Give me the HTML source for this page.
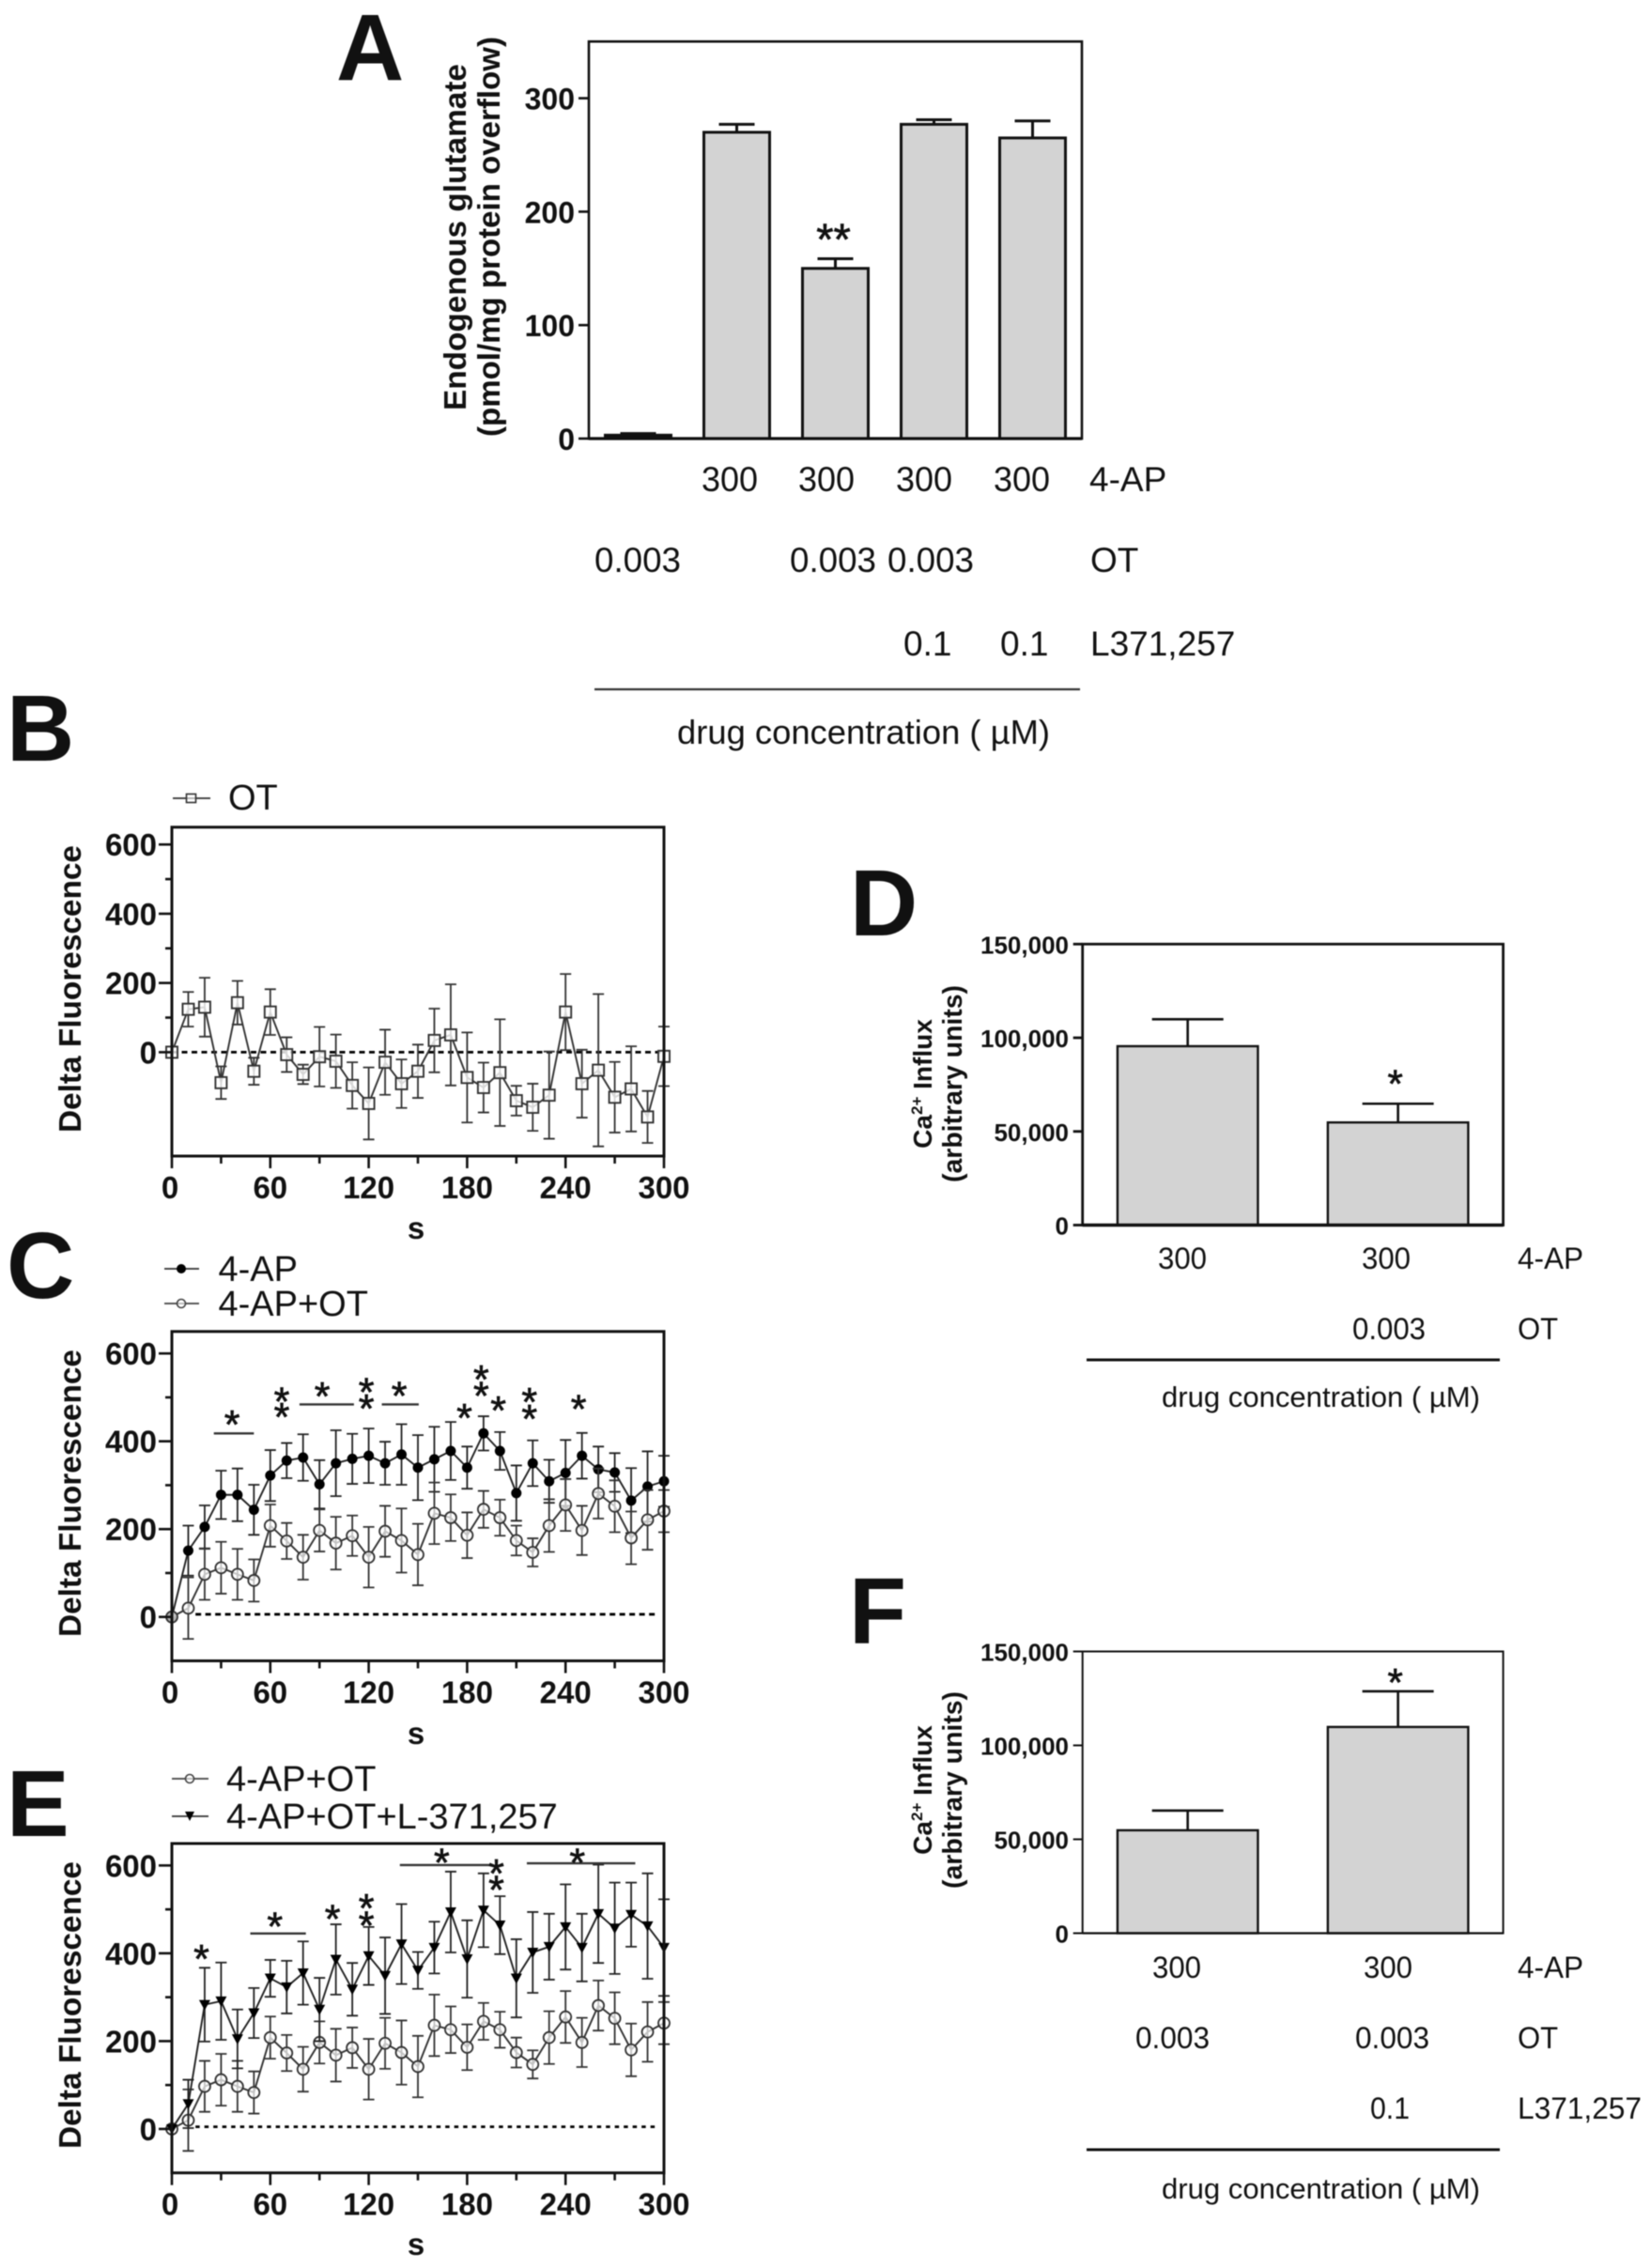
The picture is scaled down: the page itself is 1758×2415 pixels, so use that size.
<!DOCTYPE html>
<html lang="en">
<head>
<meta charset="utf-8">
<title>Glutamate release and calcium influx figure</title>
<style>
html,body{margin:0;padding:0;background:#fff}
#figure{display:block;width:1758px;height:2415px;filter:blur(.55px)}
text{font-family:"Liberation Sans",sans-serif;fill:#111}
.b{font-weight:700}
.r{font-weight:400}
</style>
</head>
<body>
<svg id="figure" xmlns="http://www.w3.org/2000/svg" width="1758" height="2415" viewBox="0 0 1758 2415">
<rect width="1758" height="2415" fill="#fff"/>

<!-- Panel letters -->
<text class="b" x="358" y="85" font-size="100">A</text>
<text class="b" x="7" y="810" font-size="100">B</text>
<text class="b" x="7" y="1382" font-size="100">C</text>
<text class="b" x="905" y="996" font-size="100">D</text>
<text class="b" x="7" y="1955" font-size="100">E</text>
<text class="b" x="904" y="1750" font-size="100">F</text>

<!-- Panel A labels -->
<g>
<text class="b" transform="translate(496,252.5) rotate(-90)" text-anchor="middle" font-size="33" textLength="369" lengthAdjust="spacingAndGlyphs">Endogenous glutamate</text>
<text class="b" transform="translate(532,252) rotate(-90)" text-anchor="middle" font-size="33" textLength="426" lengthAdjust="spacingAndGlyphs">(pmol/mg protein overflow)</text>
<text class="r" x="747" y="523" font-size="37" textLength="60" lengthAdjust="spacingAndGlyphs">300</text>
<text class="r" x="850" y="523" font-size="37" textLength="60" lengthAdjust="spacingAndGlyphs">300</text>
<text class="r" x="954" y="523" font-size="37" textLength="60" lengthAdjust="spacingAndGlyphs">300</text>
<text class="r" x="1058" y="523" font-size="37" textLength="60" lengthAdjust="spacingAndGlyphs">300</text>
<text class="r" x="1160" y="523" font-size="37">4-AP</text>
<text class="r" x="633" y="609" font-size="37" textLength="92" lengthAdjust="spacingAndGlyphs">0.003</text>
<text class="r" x="841" y="609" font-size="37" textLength="92" lengthAdjust="spacingAndGlyphs">0.003</text>
<text class="r" x="945" y="609" font-size="37" textLength="92" lengthAdjust="spacingAndGlyphs">0.003</text>
<text class="r" x="1161" y="609" font-size="37">OT</text>
<text class="r" x="962" y="698" font-size="37">0.1</text>
<text class="r" x="1065" y="698" font-size="37">0.1</text>
<text class="r" x="1161" y="698" font-size="37">L371,257</text>
<line x1="633" x2="1150" y1="734" y2="734" stroke="#333" stroke-width="2.2"/>
<text class="r" x="721" y="792" font-size="36" textLength="397" lengthAdjust="spacingAndGlyphs">drug concentration ( µM)</text>
</g>

<!-- Panel B labels -->
<g>
<text class="b" transform="translate(86,1053) rotate(-90)" text-anchor="middle" font-size="33.4" textLength="306" lengthAdjust="spacingAndGlyphs">Delta Fluorescence</text>
<text class="b" x="443" y="1319" text-anchor="middle" font-size="33">s</text>
<g>
<line x1="184" x2="224" y1="850" y2="850" stroke="#333" stroke-width="1.8"/>
<rect x="198.5" y="845.5" width="10" height="9" fill="#fff" fill-opacity="0.6" stroke="#333" stroke-width="1.6"/>
<text class="r" x="243" y="862" font-size="38">OT</text>
</g>
</g>

<!-- Panel C labels -->
<g>
<text class="b" transform="translate(86,1590) rotate(-90)" text-anchor="middle" font-size="33.4" textLength="306" lengthAdjust="spacingAndGlyphs">Delta Fluorescence</text>
<text class="b" x="443" y="1857" text-anchor="middle" font-size="33">s</text>
<g>
<line x1="175" x2="212" y1="1351" y2="1351" stroke="#333" stroke-width="1.8"/>
<circle cx="193" cy="1351" r="5" fill="#000"/>
<text class="r" x="232.5" y="1364" font-size="38">4-AP</text>
</g>
<g>
<line x1="175" x2="212" y1="1388" y2="1388" stroke="#444" stroke-width="1.8"/>
<circle cx="193" cy="1388" r="4.5" fill="#fff" fill-opacity="0.6" stroke="#444" stroke-width="1.6"/>
<text class="r" x="232.5" y="1401" font-size="38">4-AP+OT</text>
</g>
</g>

<!-- Panel E labels -->
<g>
<text class="b" transform="translate(86,2135) rotate(-90)" text-anchor="middle" font-size="33.4" textLength="306" lengthAdjust="spacingAndGlyphs">Delta Fluorescence</text>
<text class="b" x="443" y="2401" text-anchor="middle" font-size="33">s</text>
<g>
<line x1="183" x2="222" y1="1894" y2="1894" stroke="#444" stroke-width="1.8"/>
<circle cx="202" cy="1894" r="4.5" fill="#fff" fill-opacity="0.6" stroke="#444" stroke-width="1.6"/>
<text class="r" x="241" y="1907" font-size="38">4-AP+OT</text>
</g>
<g>
<line x1="183" x2="222" y1="1934" y2="1934" stroke="#333" stroke-width="1.8"/>
<polygon points="197,1929 207,1929 202,1939" fill="#000"/>
<text class="r" x="241" y="1947" font-size="38">4-AP+OT+L-371,257</text>
</g>
</g>

<!-- Panel D labels -->
<g>
<text class="b" transform="translate(992,1154) rotate(-90)" text-anchor="middle" font-size="28">Ca<tspan font-size="17" dy="-10">2+</tspan><tspan dy="10"> Influx</tspan></text>
<text class="b" transform="translate(1024,1154) rotate(-90)" text-anchor="middle" font-size="29" textLength="210" lengthAdjust="spacingAndGlyphs">(arbitrary units)</text>
<text class="r" x="1233" y="1351" font-size="32" textLength="52" lengthAdjust="spacingAndGlyphs">300</text>
<text class="r" x="1450" y="1351" font-size="32" textLength="52" lengthAdjust="spacingAndGlyphs">300</text>
<text class="r" x="1616" y="1351" font-size="32" textLength="70" lengthAdjust="spacingAndGlyphs">4-AP</text>
<text class="r" x="1440" y="1426" font-size="32" textLength="78" lengthAdjust="spacingAndGlyphs">0.003</text>
<text class="r" x="1616" y="1426" font-size="32" textLength="43" lengthAdjust="spacingAndGlyphs">OT</text>
<line x1="1157" x2="1597" y1="1448" y2="1448" stroke="#111" stroke-width="3"/>
<text class="r" x="1237" y="1498" font-size="31" textLength="339" lengthAdjust="spacingAndGlyphs">drug concentration ( µM)</text>
</g>

<!-- Panel F labels -->
<g>
<text class="b" transform="translate(992,1906) rotate(-90)" text-anchor="middle" font-size="28">Ca<tspan font-size="17" dy="-10">2+</tspan><tspan dy="10"> Influx</tspan></text>
<text class="b" transform="translate(1024,1906) rotate(-90)" text-anchor="middle" font-size="29" textLength="210" lengthAdjust="spacingAndGlyphs">(arbitrary units)</text>
<text class="r" x="1227" y="2106" font-size="32" textLength="52" lengthAdjust="spacingAndGlyphs">300</text>
<text class="r" x="1452" y="2106" font-size="32" textLength="52" lengthAdjust="spacingAndGlyphs">300</text>
<text class="r" x="1616" y="2106" font-size="32" textLength="70" lengthAdjust="spacingAndGlyphs">4-AP</text>
<text class="r" x="1209" y="2181" font-size="32" textLength="79" lengthAdjust="spacingAndGlyphs">0.003</text>
<text class="r" x="1443" y="2181" font-size="32" textLength="79" lengthAdjust="spacingAndGlyphs">0.003</text>
<text class="r" x="1616" y="2181" font-size="32" textLength="43" lengthAdjust="spacingAndGlyphs">OT</text>
<text class="r" x="1459" y="2256" font-size="32" textLength="42" lengthAdjust="spacingAndGlyphs">0.1</text>
<text class="r" x="1616" y="2256" font-size="32" textLength="132" lengthAdjust="spacingAndGlyphs">L371,257</text>
<line x1="1157" x2="1597" y1="2289" y2="2289" stroke="#111" stroke-width="3"/>
<text class="r" x="1237" y="2341" font-size="31" textLength="339" lengthAdjust="spacingAndGlyphs">drug concentration ( µM)</text>
</g>

<g id="charts"></g>
</svg>

<script>
// ---------- Data ----------
const timePoints = [0,10,20,30,40,50,60,70,80,90,100,110,120,130,140,150,160,170,180,190,200,210,220,230,240,250,260,270,280,290,300];
const timeTickValues = [0,30,60,90,120,150,180,210,240,270,300];
const timeTickLabels = ["0","","60","","120","","180","","240","","300"];
const fluorTickValues = [0,100,200,300,400,500,600];
const fluorTickLabels = ["0","","200","","400","","600"];

const otMean = [0,124,130,-88,143,-55,116,-7,-64,-13,-26,-96,-148,-29,-91,-55,34,50,-73,-102,-59,-140,-159,-124,116,-91,-52,-130,-106,-187,-12];
const otErr  = [0,50,85,47,63,39,66,50,28,86,77,67,104,94,70,77,92,146,130,72,154,43,68,126,110,98,220,102,123,75,86];

const apMean = [0,151,205,278,278,244,322,356,363,302,350,360,367,350,370,340,359,378,340,418,378,282,350,309,328,367,336,329,265,297,309];
const apErr  = [0,57,49,55,60,57,58,40,53,55,75,57,62,49,69,74,74,66,48,39,43,63,52,49,75,52,52,44,74,80,58];

const apOtMean = [0,20,97,112,97,83,208,173,136,197,168,185,136,195,174,142,236,226,186,245,226,174,147,208,255,197,281,252,180,221,241];
const apOtErr  = [0,70,58,59,58,48,48,41,51,48,60,46,69,58,73,70,70,53,52,42,41,34,32,60,59,56,57,59,60,68,48];

const apOtLMean = [0,57,283,291,205,264,343,323,355,272,386,318,394,349,421,361,413,494,387,498,464,343,402,415,460,413,490,457,488,462,413];
const apOtLErr  = [0,55,84,88,67,57,42,60,72,72,80,60,66,87,91,42,59,92,88,84,66,89,92,75,97,77,112,104,73,120,110];

const cStarTimes  = [36.7,67,67,91.7,118.6,118.6,138.6,178.3,188.6,188.6,199,218,218,248];
const cStarLevels = [460,513,477,524,534,497,525,475,563,525,492,512,473,495];
const cSpanStarts = [25.6,77.8,128];
const cSpanEnds   = [50,111,150.5];
const cSpanLevels = [418,484,484];

const eStarTimes  = [18,62.8,98,118.6,118.6,164.5,197.8,197.8,247.2];
const eStarLevels = [409,483,500,525,485,628,604,566,628];
const eSpanStarts = [47.8,139,216.4];
const eSpanEnds   = [81.7,193.6,282.5];
const eSpanLevels = [445,601,605];

const aBarValues = [3,270,150,277,265];
const aBarErrors = [1.5,7,8.5,4,15];
const aTickValues = [0,100,200,300];
const aTickLabels = ["0","100","200","300"];

const dBarValues = [95500,54800];
const dBarErrors = [14400,10000];
const fBarValues = [54800,109800];
const fBarErrors = [10500,19000];
const influxTickValues = [0,50000,100000,150000];
const influxTickLabels = ["0","50,000","100,000","150,000"];

// ---------- Drawing helpers ----------
const NS = "http://www.w3.org/2000/svg";
const root = document.getElementById("charts");

function mk(parent, tag, attrs, name) {
  const el = document.createElementNS(NS, tag);
  for (const k in attrs) el.setAttribute(k, attrs[k]);
  
  
  parent.appendChild(el);
  return el;
}

function label(parent, x, y, str, size, weight, anchor, name) {
  const t = mk(parent, "text", {x:x, y:y, "font-size":size, "font-weight":weight, "text-anchor":anchor}, name);
  t.textContent = str;
  return t;
}

function star(parent, x, yc, size, str, name) {
  const t = label(parent, x, yc + size * 0.58, str, size, 400, "middle", name);
  t.setAttribute("stroke", "#111");
  t.setAttribute("stroke-width", "0.7");
  return t;
}

function marker(parent, kind, x, y, color, name) {
  if (kind === "square") {
    mk(parent, "rect", {x:x-6, y:y-6, width:12, height:12, fill:"#fff", "fill-opacity":0.8, stroke:color, "stroke-width":1.9}, name);
  } else if (kind === "open") {
    mk(parent, "circle", {cx:x, cy:y, r:6, fill:"#fff", "fill-opacity":0.7, stroke:color, "stroke-width":1.8}, name);
  } else if (kind === "solid") {
    mk(parent, "circle", {cx:x, cy:y, r:5.5, fill:"#000"}, name);
  } else {
    mk(parent, "polygon", {points:(x-6)+","+(y-5)+" "+(x+6)+","+(y-5)+" "+x+","+(y+6), fill:"#000"}, name);
  }
}

function drawSeries(g, prefix, means, errs, sx, sy, kind, color) {
  const sg = mk(g, "g", {}, prefix + "-series");
  const pts = timePoints.map((t, i) => sx(t) + "," + sy(means[i])).join(" ");
  timePoints.forEach((t, i) => {
    if (!errs[i]) return;
    const x = sx(t), hi = sy(means[i] + errs[i]), lo = sy(means[i] - errs[i]);
    mk(sg, "path", {d:"M"+x+" "+hi+"V"+lo+"M"+(x-6)+" "+hi+"H"+(x+6)+"M"+(x-6)+" "+lo+"H"+(x+6), fill:"none", stroke:color, "stroke-width":1.8}, prefix + "-error-bar-" + t);
  });
  mk(sg, "polyline", {points:pts, fill:"none", stroke:color, "stroke-width":1.9}, prefix + "-line");
  timePoints.forEach((t, i) => {
    marker(sg, kind, sx(t), sy(means[i]), color, prefix + "-point-" + t);
  });
}

function drawTimeChart(o) {
  const g = mk(root, "g", {}, o.id + "-chart");
  const tMax = 300;
  const sx = t => o.left + t / tMax * (o.right - o.left);
  const sy = v => o.bottom - (v - o.yMin) / (o.yMax - o.yMin) * (o.bottom - o.top);

  // zero reference
  mk(g, "line", {x1:sx(o.dashFrom), x2:sx(o.dashTo), y1:sy(o.dashLevel), y2:sy(o.dashLevel), stroke:"#000", "stroke-width":2.8, "stroke-dasharray":o.dash}, o.id + "-zero-reference-line");

  o.series.forEach(s => drawSeries(g, o.id + "-" + s.name, s.means, s.errs, sx, sy, s.kind, s.color));

  // frame
  mk(g, "rect", {x:o.left, y:o.top, width:o.right-o.left, height:o.bottom-o.top, fill:"none", stroke:"#111", "stroke-width":3}, o.id + "-plot-frame");

  // y ticks
  fluorTickValues.forEach((v, i) => {
    const y = sy(v), major = fluorTickLabels[i] !== "";
    mk(g, "line", {x1:o.left - (major ? 14 : 7), x2:o.left, y1:y, y2:y, stroke:"#111", "stroke-width":2.6}, o.id + "-y-tick-" + v);
    if (major) label(g, o.left - 16, y + 12, fluorTickLabels[i], 33, 700, "end", o.id + "-y-tick-label-" + v);
  });

  // x ticks
  timeTickValues.forEach((t, i) => {
    const x = sx(t), major = timeTickLabels[i] !== "";
    mk(g, "line", {x1:x, x2:x, y1:o.bottom, y2:o.bottom + (major ? 13 : 8), stroke:"#111", "stroke-width":2.6}, o.id + "-x-tick-" + t);
    if (major) label(g, t === 0 ? x - 2 : x, o.bottom + 45, timeTickLabels[i], 33, 700, "middle", o.id + "-x-tick-label-" + t);
  });

  // significance annotations
  o.spanStarts.forEach((t0, i) => {
    mk(g, "line", {x1:sx(t0), x2:sx(o.spanEnds[i]), y1:sy(o.spanLevels[i]), y2:sy(o.spanLevels[i]), stroke:"#333", "stroke-width":2.4}, o.id + "-significance-span-" + i);
  });
  o.starTimes.forEach((t, i) => {
    star(g, sx(t), sy(o.starLevels[i]), 43, "*", o.id + "-significance-star-" + i);
  });
}

function drawBarChart(o) {
  const g = mk(root, "g", {}, o.id + "-chart");
  const band = (o.right - o.left) / o.values.length;
  const sy = v => o.bottom - v / o.yMax * (o.bottom - o.top);

  o.values.forEach((v, i) => {
    const cx = o.left + band * (i + 0.5);
    const top = sy(v), errTop = sy(v + o.errors[i]);
    mk(g, "path", {d:"M"+cx+" "+top+"V"+errTop+"M"+(cx-o.capW/2)+" "+errTop+"H"+(cx+o.capW/2), fill:"none", stroke:"#111", "stroke-width":o.errStroke}, o.id + "-error-bar-" + i);
    mk(g, "rect", {x:cx-o.barW/2, y:top, width:o.barW, height:o.bottom-top, fill:i === o.darkIndex ? "#111" : "#d3d3d3", stroke:"#111", "stroke-width":o.barStroke}, o.id + "-bar-" + i);
  });

  mk(g, "rect", {x:o.left, y:o.top, width:o.right-o.left, height:o.bottom-o.top, fill:"none", stroke:"#111", "stroke-width":o.frameStroke}, o.id + "-plot-frame");
  mk(g, "line", {x1:o.left, x2:o.right, y1:o.bottom, y2:o.bottom, stroke:"#111", "stroke-width":o.axisStroke}, o.id + "-x-axis-line");

  o.ticks.forEach((v, i) => {
    const y = sy(v);
    mk(g, "line", {x1:o.left - o.tickLen, x2:o.left, y1:y, y2:y, stroke:"#111", "stroke-width":o.frameStroke}, o.id + "-y-tick-" + v);
    label(g, o.labelX, y + o.labelDy, o.tickLabels[i], o.labelSize, 700, "end", o.id + "-y-tick-label-" + v);
  });

  o.stars.forEach((s, i) => {
    star(g, o.left + band * (s.bar + 0.5) + s.dx, sy(s.level), o.starSize, s.text, o.id + "-significance-star-" + i);
  });
}

// ---------- Panels ----------
drawBarChart({
  id:"a", left:627, right:1152, top:44.2, bottom:467, yMax:350,
  values:aBarValues, errors:aBarErrors, barW:70, capW:38, barStroke:3, errStroke:3, frameStroke:2.6, axisStroke:3.2, darkIndex:0,
  ticks:aTickValues, tickLabels:aTickLabels, tickLen:11, labelX:612, labelDy:12, labelSize:32,
  stars:[{bar:2, dx:-2, level:185, text:"**"}], starSize:47
});

drawTimeChart({
  id:"b", left:183, right:707, top:880.8, bottom:1231, yMin:-300, yMax:650,
  dashFrom:0, dashTo:300, dashLevel:0, dash:"6 4.5",
  series:[{name:"ot", means:otMean, errs:otErr, kind:"square", color:"#333"}],
  spanStarts:[], spanEnds:[], spanLevels:[], starTimes:[], starLevels:[]
});

drawTimeChart({
  id:"c", left:183, right:707, top:1417.8, bottom:1768.5, yMin:-100, yMax:650,
  dashFrom:14.4, dashTo:295, dashLevel:6, dash:"6 4.5",
  series:[
    {name:"4ap", means:apMean, errs:apErr, kind:"solid", color:"#222"},
    {name:"4ap-ot", means:apOtMean, errs:apOtErr, kind:"open", color:"#333"}
  ],
  spanStarts:cSpanStarts, spanEnds:cSpanEnds, spanLevels:cSpanLevels, starTimes:cStarTimes, starLevels:cStarLevels
});

drawTimeChart({
  id:"e", left:183, right:707, top:1963, bottom:2313.7, yMin:-100, yMax:650,
  dashFrom:14.4, dashTo:295, dashLevel:5, dash:"4.5 5",
  series:[
    {name:"4ap-ot", means:apOtMean, errs:apOtErr, kind:"open", color:"#333"},
    {name:"4ap-ot-l371", means:apOtLMean, errs:apOtLErr, kind:"triangle", color:"#222"}
  ],
  spanStarts:eSpanStarts, spanEnds:eSpanEnds, spanLevels:eSpanLevels, starTimes:eStarTimes, starLevels:eStarLevels
});

drawBarChart({
  id:"d", left:1152.7, right:1600.6, top:1005.3, bottom:1304.5, yMax:150000,
  values:dBarValues, errors:dBarErrors, barW:149.5, capW:76, barStroke:2.4, errStroke:2.6, frameStroke:2.8, axisStroke:3.4, darkIndex:-1,
  ticks:influxTickValues, tickLabels:influxTickLabels, tickLen:10, labelX:1138, labelDy:10, labelSize:26,
  stars:[{bar:1, dx:-3, level:80500, text:"*"}], starSize:42
});

drawBarChart({
  id:"f", left:1152.7, right:1600.6, top:1758.5, bottom:2058.5, yMax:150000,
  values:fBarValues, errors:fBarErrors, barW:149.5, capW:76, barStroke:2.4, errStroke:2.6, frameStroke:2, axisStroke:2.2, darkIndex:-1,
  ticks:influxTickValues, tickLabels:influxTickLabels, tickLen:10, labelX:1138, labelDy:10, labelSize:26,
  stars:[{bar:1, dx:-3, level:138400, text:"*"}], starSize:42
});
</script>
</body>
</html>
